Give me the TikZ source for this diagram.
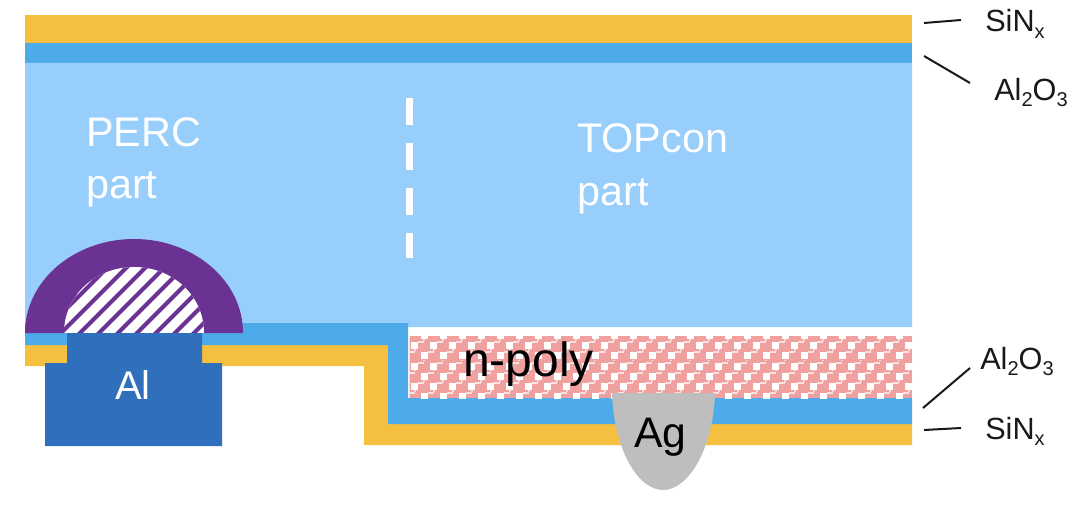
\documentclass[tikz,border=0pt]{standalone}
\usepackage{fontspec}
\setmainfont{Liberation Sans}
\definecolor{sinx}{HTML}{F5C040}
\definecolor{alox}{HTML}{4DABE9}
\definecolor{silicon}{HTML}{97CEFB}
\definecolor{paste}{HTML}{6A3293}
\definecolor{alu}{HTML}{2F6FBC}
\definecolor{silver}{HTML}{BEBEBE}
\definecolor{poly}{HTML}{F1A0A0}
\newcommand{\lowsub}[1]{\raisebox{-0.22em}{\fontsize{15}{15}\selectfont #1}}
\tikzset{
  partlabel/.style={anchor=base west,inner sep=0pt,text=white,font=\fontsize{31}{31}\selectfont},
  contactlabel/.style={anchor=base west,inner sep=0pt,font=\fontsize{32}{32}\selectfont},
  layerlabel/.style={anchor=base west,inner sep=0pt,text=black!90,font=\fontsize{23}{23}\selectfont},
  leader/.style={draw=black!90,line width=1.5pt}
}
\begin{document}
\begin{tikzpicture}[x=0.75pt,y=-0.75pt]
\useasboundingbox (0,0) rectangle (1080,510);
% front stack
\fill[sinx] (25,15) rectangle (912,43);
\fill[alox] (25,43) rectangle (912,63);
\fill[silicon] (25,63) -- (912,63) -- (912,327) -- (408,327) -- (408,323) -- (25,323) -- cycle;
% rear stack
\fill[sinx] (25,345) -- (388,345) -- (388,424) -- (912,424) -- (912,445) -- (364,445) -- (364,366) -- (25,366) -- cycle;
\fill[alox] (25,323) -- (408,323) -- (408,398) -- (912,398) -- (912,424) -- (388,424) -- (388,345) -- (25,345) -- cycle;
% n-poly
\begin{scope}
  \clip (409.5,336) rectangle (912,398);
  \fill[poly] (409,336) rectangle (912,398);
  \foreach \r in {0,...,6}{
    \pgfmathsetmacro{\off}{mod(\r,2)*9.5}
    \foreach \c in {0,...,27}{
      \pgfmathsetmacro{\xx}{405+\off+19*\c}
      \pgfmathsetmacro{\yy}{332+10.2*\r}
      \fill[white] (\xx-3.5,\yy+3.5-3.5) rectangle (\xx+3.5,\yy+3.5+3.5);
      \fill[white!70!poly] (\xx+6.5-3,\yy-1) rectangle (\xx+6.5+3,\yy+1);
      \fill[white!55!poly] (\xx-9.5-1,\yy-3) rectangle (\xx-9.5+1,\yy-1.5);
    }
  }
\end{scope}
% paste dome
\fill[paste] (25,333) .. controls (25,280) and (75,239) .. (134,239) .. controls (193,239) and (243,280) .. (243,333) -- cycle;
\begin{scope}
  \clip (64,333) .. controls (64,296) and (95,267) .. (134,267) .. controls (173,267) and (204,296) .. (204,333) -- cycle;
  \fill[white] (60,262) rectangle (210,335);
  \foreach \k in {-3,...,11}{
    \draw[paste,line width=3pt] ({58+19*\k},336) -- ({58+19*\k+80},256);
  }
\end{scope}
% aluminium contact
\fill[alu] (67,333) -- (202,333) -- (202,363) -- (222,363) -- (222,446) -- (45,446) -- (45,363) -- (67,363) -- cycle;
% silver contact
\fill[silver] (612,393) -- (715,393) .. controls (713,450) and (688,490) .. (663,490) .. controls (638,490) and (614,450) .. (612,393) -- cycle;
% divider
\draw[white,line width=5.2pt,dash pattern=on 19.9pt off 13.9pt] (409.5,98) -- (409.5,258);
% texts
\node[partlabel] (perc) at (86,146) {PERC};
\node[partlabel] (percpart) at (86,198) {part};
\node[partlabel] (topcon) at (577,152) {TOPcon};
\node[partlabel] (topconpart) at (577,205) {part};
\node[contactlabel,text=white,font=\fontsize{30}{30}\selectfont] (al) at (115,399) {Al};
\node[contactlabel,font=\fontsize{36}{36}\selectfont] (npoly) at (463,376) {n-poly};
\node[contactlabel] (ag) at (634,447) {Ag};
\node[layerlabel] (sintop) at (985,32) {SiN\lowsub{x}};
\node[layerlabel] (altop) at (994,100) {Al\lowsub{2}O\lowsub{3}};
\node[layerlabel] (albot) at (980,369) {Al\lowsub{2}O\lowsub{3}};
\node[layerlabel] (sinbot) at (985,439) {SiN\lowsub{x}};
% leaders
\coordinate (a1) at (924,23); \coordinate (a2) at (961,20);
\coordinate (b1) at (924,56); \coordinate (b2) at (970,83);
\coordinate (c1) at (923,408); \coordinate (c2) at (970,368);
\coordinate (d1) at (924,430); \coordinate (d2) at (961,428);
\draw[leader] (a1) -- (a2);
\draw[leader] (b1) -- (b2);
\draw[leader] (c1) -- (c2);
\draw[leader] (d1) -- (d2);
\end{tikzpicture}
\end{document}
